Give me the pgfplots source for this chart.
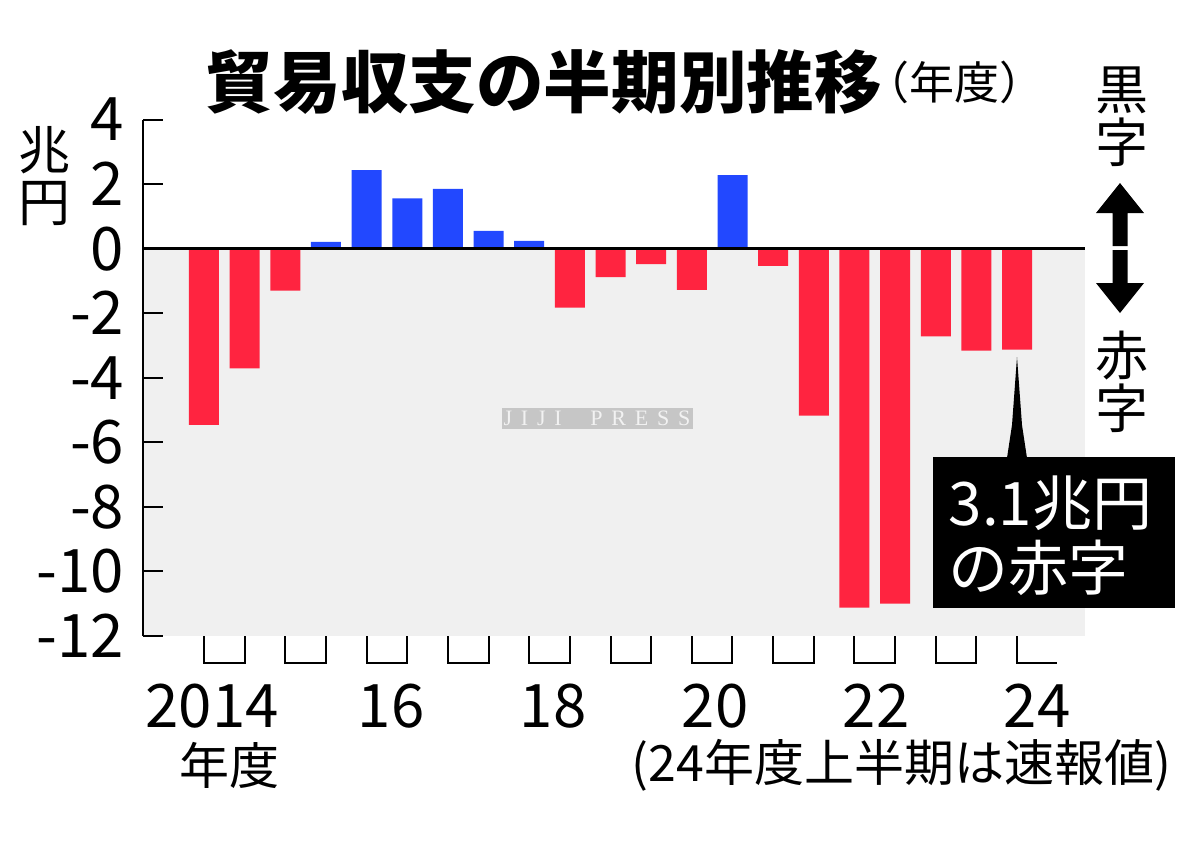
\documentclass[border=0pt]{standalone}
\usepackage{fontspec}
\setmainfont{Noto Sans CJK JP}
\newfontfamily\wm[LetterSpace=40]{Liberation Serif}
\usepackage{pgfplots}
\pgfplotsset{compat=1.18}
\definecolor{barred}{RGB}{255,36,64}
\definecolor{barblue}{RGB}{34,72,255}
\definecolor{bggray}{RGB}{240,240,240}
\newcommand{\fs}[1]{\fontsize{#1}{#1}\selectfont}

\begin{document}
\begin{tikzpicture}
\begin{axis}[
  at={(35.75pt,-159pt)}, anchor=south west,
  width=235.5pt, height=129.125pt, scale only axis,
  xmin=-1.5, xmax=21.67, ymin=-12, ymax=4,
  axis x line=none, axis y line*=left,
  y axis line style={line width=0.5pt},
  ytick={-12,-10,...,4},
  yticklabels={-12,-10,-8,-6,-4,-2,0,2,4},
  tick align=inside, major tick length=5pt,
  ytick style={line width=0.5pt, black},
  yticklabel style={font=\fs{15pt}, anchor=east, inner sep=0pt, xshift=-4.5pt},
  set layers, clip=false,
]
\begin{pgfonlayer}{axis background}
  \fill[bggray] (axis cs:-1.5,0) rectangle (axis cs:21.67,-12);
\end{pgfonlayer}
% half-year balances, trillion yen (deficit / surplus)
\addplot[ybar, bar width=0.738, bar shift=0pt, fill=barred, draw=none] coordinates {
  (0,-5.46) (1,-3.71) (2,-1.30) (9,-1.83) (10,-0.88) (11,-0.48) (12,-1.28)
  (14,-0.53) (15,-5.17) (16,-11.12) (17,-11.0) (18,-2.72) (19,-3.16) (20,-3.13)};
\addplot[ybar, bar width=0.738, bar shift=0pt, fill=barblue, draw=none] coordinates {
  (3,0.21) (4,2.43) (5,1.56) (6,1.85) (7,0.55) (8,0.24) (13,2.28)};
\draw[line width=0.6pt] (axis cs:-1.5,0) -- (axis cs:21.67,0);
\end{axis}

\begin{scope}[x=0.25pt,y=-0.25pt]
  % year brackets
  \foreach \i in {0,...,9}
    \draw[line width=0.5pt] ({204+81.3*\i},636) -- ({204+81.3*\i},663)
      -- ({244.65+81.3*\i},663) -- ({244.65+81.3*\i},636);
  \draw[line width=0.5pt] (1017,636) -- (1017,663) -- (1057,663);
  % year labels
  \foreach \x/\t in {212/2014,391/16,553/18,715/20,876/22,1037/24}
    \node[font=\fs{15pt}, inner sep=0pt] at (\x,706) {\t};
  \node[font=\fs{12.5pt}, inner sep=0pt] at (229,765) {年度};
  \node[anchor=east, font=\fs{12.5pt}, inner sep=0pt] at (1172,765) {(24年度上半期は速報値)};
  % title
  \node[anchor=west, font=\fs{16.9pt}\bfseries, inner sep=0pt] at (205,82) {貿易収支の半期別推移};
  \node[anchor=west, font=\fs{11.25pt}, inner sep=0pt] at (864,82) {（年度）};
  % unit
  \node[align=center, font=\fs{13pt}, inner sep=0pt] at (45,176) {兆\\円};
  % surplus / deficit
  \node[align=center, font=\fs{13.25pt}, inner sep=0pt] at (1122,117) {黒\\字};
  \node[align=center, font=\fs{13.25pt}, inner sep=0pt] at (1122,382) {赤\\字};
  \fill (1112.5,246) -- (1112.5,213) -- (1096,213) -- (1120,183) -- (1144,213)
    -- (1127.5,213) -- (1127.5,246) -- cycle;
  \fill (1112.5,250) -- (1112.5,283) -- (1096,283) -- (1120,313) -- (1144,283)
    -- (1127.5,283) -- (1127.5,250) -- cycle;
  % watermark
  \fill[gray!45] (502,408) rectangle (693,429);
  \node[font=\wm\fs{5.5pt}, text=white!90!gray, inner sep=0pt] at (597,418.5) {JIJI\ \ PRESS};
  % callout
  \fill (933,457) rectangle (1175,608);
  \fill (1007,458) -- (1012,425) -- (1017,357) -- (1022,425) -- (1027,458) -- cycle;
  \node[anchor=west, font=\fs{15pt}, text=white, inner sep=0pt] at (948,503) {3.1兆円};
  \node[anchor=west, font=\fs{15pt}, text=white, inner sep=0pt] at (948,568) {の赤字};
  \path[use as bounding box] (0,0) rectangle (1200,840);
\end{scope}
\end{tikzpicture}
\end{document}
